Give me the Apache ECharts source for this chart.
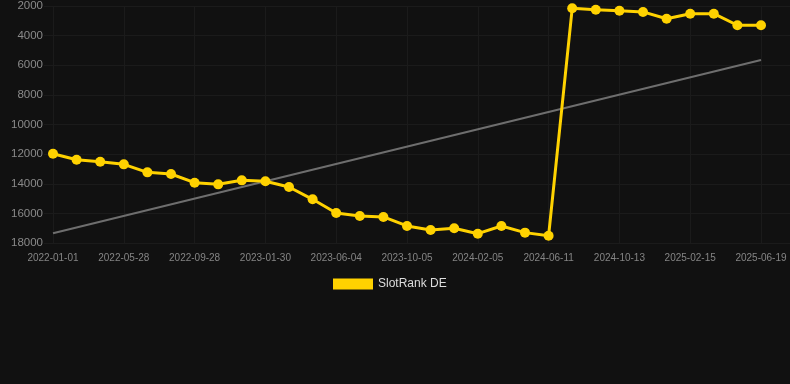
<!DOCTYPE html>
<html>
<head>
<meta charset="utf-8">
<script src="https://cdn.jsdelivr.net/npm/echarts@6/dist/echarts.min.js"></script>
<style>
html,body{margin:0;padding:0;background:#111111;}
#chart{width:790px;height:384px;}
</style>
</head>
<body>
<div id="chart"></div>
<script>
var categories = [
  '2022-01-01','2022-02-19','2022-04-09','2022-05-28','2022-07-08','2022-08-18',
  '2022-09-28','2022-11-08','2022-12-19','2023-01-30','2023-03-14','2023-04-23',
  '2023-06-04','2023-07-15','2023-08-25','2023-10-05','2023-11-15','2023-12-26',
  '2024-02-05','2024-03-18','2024-04-30','2024-06-11','2024-07-22','2024-09-02',
  '2024-10-13','2024-11-23','2025-01-04','2025-02-15','2025-03-29','2025-05-09',
  '2025-06-19'
];
var rankDE = [
  11970, 12380, 12510, 12690, 13230, 13340,
  13930, 14040, 13770, 13830, 14220, 15050,
  15970, 16180, 16240, 16850, 17120, 17010,
  17370, 16850, 17300, 17510, 2155, 2250,
  2320, 2400, 2860, 2520, 2520, 3300,
  3300
];
var trendStart = 17345;
var trendEnd = 5645;
var yTicks = [2000, 4000, 6000, 8000, 10000, 12000, 14000, 16000, 18000];
var seriesName = 'SlotRank DE';

var trendData = categories.map(function (c, i) {
  if (i === 0) return trendStart;
  if (i === categories.length - 1) return trendEnd;
  return null;
});

var chart = echarts.init(document.getElementById('chart'), null, {renderer: 'canvas'});
var gridLineColor = '#1b1b1b';
chart.setOption({
  backgroundColor: '#111111',
  animation: false,
  grid: [
    {left: 53, right: 29, top: 6, bottom: 141},
    {left: 44, right: 0, top: 6, bottom: 141}
  ],
  legend: {
    data: [{name: seriesName, icon: 'rect'}],
    left: 328,
    top: 273,
    itemWidth: 40,
    itemHeight: 11,
    itemGap: 10,
    textStyle: {color: '#dddddd', fontSize: 12, fontFamily: 'Liberation Sans, Arial, sans-serif'}
  },
  xAxis: [
    {
      type: 'category',
      gridIndex: 0,
      data: categories,
      boundaryGap: false,
      axisLine: {show: false},
      axisTick: {show: false},
      axisLabel: {
        interval: 2,
        color: '#858585',
        fontSize: 10,
        margin: 10,
        fontFamily: 'Liberation Sans, Arial, sans-serif'
      },
      splitLine: {show: true, interval: 2, lineStyle: {color: gridLineColor, width: 1}}
    },
    {
      type: 'category',
      gridIndex: 1,
      data: categories,
      show: false
    }
  ],
  yAxis: [
    {
      type: 'value',
      gridIndex: 0,
      inverse: true,
      min: yTicks[0],
      max: yTicks[yTicks.length - 1],
      interval: 2000,
      axisLine: {show: false},
      axisTick: {show: false},
      axisLabel: {show: false},
      splitLine: {show: false}
    },
    {
      type: 'value',
      gridIndex: 1,
      inverse: true,
      min: yTicks[0],
      max: yTicks[yTicks.length - 1],
      interval: 2000,
      axisLine: {show: false},
      axisTick: {show: false},
      axisLabel: {
        color: '#8a8a8a',
        fontSize: 11.5,
        margin: 1,
        formatter: function (v) { return String(v); },
        fontFamily: 'Liberation Sans, Arial, sans-serif'
      },
      splitLine: {show: true, lineStyle: {color: gridLineColor, width: 1}}
    }
  ],
  series: [
    {
      name: 'trend',
      type: 'line',
      xAxisIndex: 0,
      yAxisIndex: 0,
      data: trendData,
      connectNulls: true,
      symbol: 'none',
      silent: true,
      lineStyle: {color: '#6e6e6e', width: 2},
      z: 2
    },
    {
      name: seriesName,
      type: 'line',
      xAxisIndex: 0,
      yAxisIndex: 0,
      data: rankDE,
      symbol: 'circle',
      symbolSize: 10,
      itemStyle: {color: '#FFD200'},
      lineStyle: {color: '#FFD200', width: 3},
      z: 3
    }
  ]
});
</script>
</body>
</html>
